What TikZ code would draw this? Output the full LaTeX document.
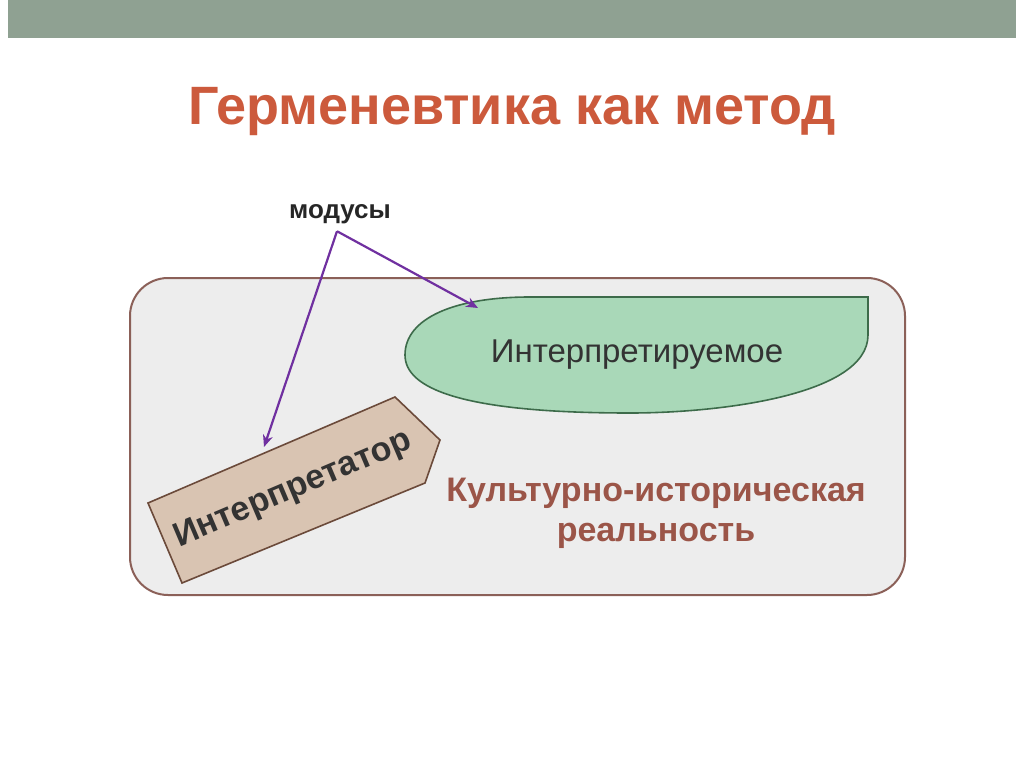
\documentclass[tikz,border=0pt]{standalone}
\usepackage{fontspec}
\setmainfont{Liberation Sans}
\usetikzlibrary{arrows.meta}
\definecolor{barc}{HTML}{8FA192}
\definecolor{titc}{HTML}{CC5A3C}
\definecolor{purp}{HTML}{7030A0}
\definecolor{boxb}{HTML}{8B6058}
\definecolor{grn}{HTML}{A9D8B8}
\definecolor{grnb}{HTML}{3D6B4A}
\definecolor{tan}{HTML}{D9C4B2}
\definecolor{tanb}{HTML}{6B4A3A}
\definecolor{kult}{HTML}{9B5548}
\tikzset{conn/.style={purp,line width=2.2pt,-{Stealth[length=12pt,width=10pt]}}}
\begin{document}
\begin{tikzpicture}[x=1pt,y=-1pt]
\useasboundingbox (0,0) rectangle (1024,767);
\fill[white] (0,0) rectangle (1024,767);
\fill[barc] (8,0) rectangle (1016,38);
\node[titc,font=\bfseries\fontsize{54}{60}\selectfont] (title) at (512,112) {Герменевтика как метод};
\node[font=\bfseries\fontsize{26}{30}\selectfont,text=black!85] (mod) at (340,214) {модусы};
\draw[boxb,line width=2pt,fill=black!7,rounded corners=38pt] (130,278) rectangle (905,595);
\draw[grnb,line width=1.6pt,fill=grn] (868,297) -- (868,335) .. controls (868,395) and (720,413) .. (630,413) .. controls (460,413) and (405,388) .. (405,355) .. controls (405,318) and (455,297) .. (530,297) -- cycle;
\node[font=\fontsize{33}{38}\selectfont,text=black!80] (interp) at (637,355) {Интерпретируемое};
\draw[tanb,line width=1.6pt,fill=tan] (148,503) -- (395,397) -- (440,440) -- (425,483) -- (182,583) -- cycle;
\node[rotate=23,font=\bfseries\fontsize{34}{38}\selectfont,text=black!80] (iator) at (293,490) {Интерпретатор};
\node[align=center,kult,font=\bfseries\fontsize{34}{40}\selectfont] (kul) at (656,513) {Культурно-историческая\\реальность};
\coordinate (a1) at (264,447);
\coordinate (a2) at (478,308);
\draw[conn] (mod.south) ++(-3,4) -- (a1);
\draw[conn] (mod.south) ++(-3,4) -- (a2);
\end{tikzpicture}
\end{document}
